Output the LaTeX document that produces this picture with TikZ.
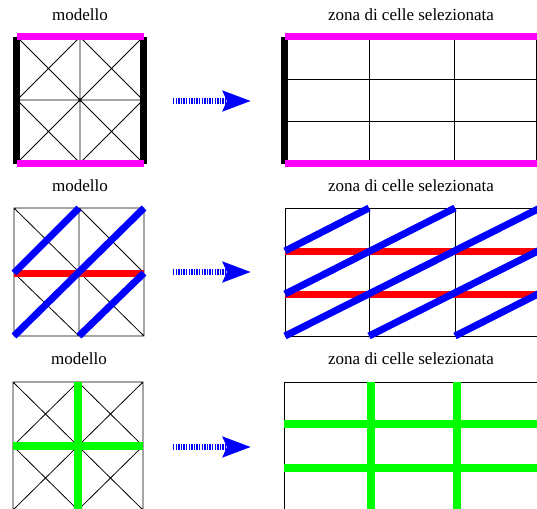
\documentclass[tikz,border=0pt]{standalone}
\usepackage{fontspec}
\setmainfont{Liberation Serif}
\usetikzlibrary{arrows.meta}
\definecolor{mymagenta}{HTML}{FF00FF}
\definecolor{mygreen}{HTML}{00FF00}
\definecolor{myblue}{HTML}{0000FF}
\definecolor{myred}{HTML}{FF0000}
\tikzset{
	gridline/.style={
			draw=black,
			line width=0.8pt
		},
	blackbar/.style={
			draw=black,
			line width=7pt
		},
	magentabar/.style={
			draw=mymagenta,
			line width=7pt
		},
	bluebar/.style={
			draw=myblue,
			line width=7pt
		},
	redbar/.style={
			draw=myred,
			line width=7pt
		},
	greenbar/.style={
			draw=mygreen,
			line width=8pt
		},
	bigarrow/.style={
			draw=myblue,
			line width=6.5pt,
			dash pattern=on 1.3pt off 1.3pt,
			-{Stealth[length=28pt, width=20pt, inset=4pt]}
		}
}
\tikzset{
	titletext/.style={font=\fontsize{17}{20}\selectfont, inner sep=0pt}
}

\begin{document}
\begin{tikzpicture}[x=1pt, y=-1pt]
	\path[use as bounding box, clip] (0,0) rectangle (537,508);

	% titles
	\node[titletext] (t1l) at (80,15)  {modello};
	\node[titletext] (t1r) at (411,15) {zona di celle selezionata};
	\node[titletext] (t2l) at (80,186) {modello};
	\node[titletext] (t2r) at (411,186) {zona di celle selezionata};
	\node[titletext] (t3l) at (79,359) {modello};
	\node[titletext] (t3r) at (411,359) {zona di celle selezionata};

	% first row: model
	\draw[gridline] (17,37) rectangle (143,163)
		(80,37) -- (80,163) (17,100) -- (143,100)
		(17,37) -- (143,163) (17,163) -- (143,37)
		(17,100) -- (80,37) -- (143,100) -- (80,163) -- cycle;
	\draw[blackbar] (16.5,37) -- (16.5,164);
	\draw[blackbar] (143.5,37) -- (143.5,164);
	\draw[magentabar] (17,36.5) -- (144,36.5);
	\draw[magentabar] (17,163.5) -- (144,163.5);

	% first row: selection
	\draw[gridline] (285,37) rectangle (536,164)
		(369,37) -- (369,164) (454,37) -- (454,164)
		(285,79) -- (536,79) (285,121) -- (536,121);
	\draw[blackbar] (284.5,37) -- (284.5,164);
	\draw[magentabar] (285,36.5) -- (540,36.5);
	\draw[magentabar] (285,163.5) -- (540,163.5);

	% second row: model
	\draw[gridline] (14,208) rectangle (144,336)
		(79,208) -- (79,336) (14,273) -- (144,273)
		(14,208) -- (144,336)
		(14,273) -- (79,336) (79,208) -- (144,273);
	\draw[redbar] (14,273) -- (144,273);
	\draw[bluebar] (14,273) -- (79,208);
	\draw[bluebar] (14,336) -- (144,208);
	\draw[bluebar] (79,336) -- (144,273);

	% second row: selection
	\draw[gridline] (285,208) rectangle (540,336)
		(369,208) -- (369,336) (455,208) -- (455,336);
	\draw[redbar] (285,251) -- (540,251);
	\draw[redbar] (285,294) -- (540,294);
	\draw[bluebar] (285,251) -- (369,208);
	\draw[bluebar] (285,294) -- (455,208);
	\draw[bluebar] (285,336) -- (540,208);
	\draw[bluebar] (369,336) -- (540,250);
	\draw[bluebar] (455,336) -- (540,293);

	% third row: model
	\draw[gridline] (13,382) rectangle (143,510)
		(78,382) -- (78,510) (13,446) -- (143,446)
		(13,382) -- (143,510) (13,510) -- (143,382)
		(13,446) -- (78,382) -- (143,446) -- (78,510) -- cycle;
	\draw[greenbar] (78,382) -- (78,510);
	\draw[greenbar] (13,446) -- (143,446);

	% third row: selection
	\draw[gridline] (284,382) rectangle (540,510);
	\draw[greenbar] (371,382) -- (371,510);
	\draw[greenbar] (457,382) -- (457,510);
	\draw[greenbar] (284,424) -- (540,424);
	\draw[greenbar] (284,468) -- (540,468);

	% arrows
	\coordinate (a1s) at (173,101);
	\coordinate (a1e) at (251,101);
	\coordinate (a2s) at (173,272);
	\coordinate (a2e) at (251,272);
	\coordinate (a3s) at (173,447);
	\coordinate (a3e) at (251,447);
	\draw[bigarrow] (a1s) -- (a1e);
	\draw[bigarrow] (a2s) -- (a2e);
	\draw[bigarrow] (a3s) -- (a3e);

\end{tikzpicture}
\end{document}
